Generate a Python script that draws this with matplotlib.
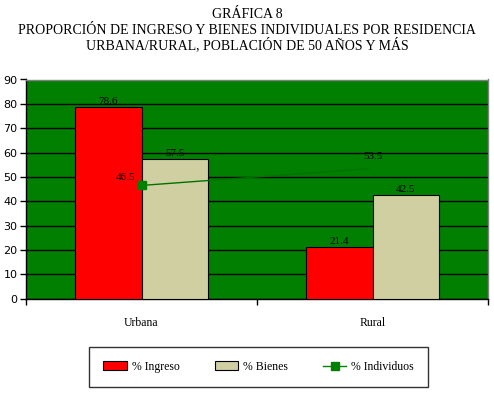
import numpy as np
import matplotlib
matplotlib.use('Agg')
import matplotlib.pyplot as plt
from matplotlib.lines import Line2D
from matplotlib.patches import Patch

# data
categories = ['Urbana', 'Rural']
ingreso = [78.6, 21.4]
bienes = [57.5, 42.5]
individuos = [46.5, 53.5]
yticks = list(range(0, 100, 10))

bg_green = '#007F00'
red = '#FF0000'
beige = '#D0CFA2'
line_green = '#007200'

fig = plt.figure(figsize=(4.94, 3.94), dpi=100)
ax = fig.add_axes([26 / 494, (394 - 298.7) / 394, 462 / 494, 219.2 / 394])
ax.set_facecolor(bg_green)

x = np.arange(len(categories))
w = 0.286
ax.bar(x - w / 2, ingreso, w, color=red, edgecolor='black', linewidth=0.8, zorder=3)
ax.bar(x + w / 2, bienes, w, color=beige, edgecolor='black', linewidth=0.8, zorder=3)
ax.plot(x, individuos, color=line_green, linewidth=1, marker='s', markersize=6,
        markerfacecolor='#008000', markeredgecolor='#008000', zorder=4)

# value labels
lab = dict(family='Liberation Serif', fontsize=8, color='black')
for i in range(len(categories)):
    ax.annotate(f'{ingreso[i]}', (x[i] - w / 2, ingreso[i]), xytext=(0, 1),
                textcoords='offset pixels', ha='center', va='bottom', **lab)
    ax.annotate(f'{bienes[i]}', (x[i] + w / 2, bienes[i]), xytext=(0, 1),
                textcoords='offset pixels', ha='center', va='bottom', **lab)
ax.annotate(f'{individuos[0]}', (x[0], individuos[0]), xytext=(-6, 8),
            textcoords='offset pixels', ha='right', va='center', **lab)
ax.annotate(f'{individuos[1]}', (x[1], individuos[1]), xytext=(0, 12),
            textcoords='offset pixels', ha='center', va='center', **lab)

ax.set_ylim(0, 90)
ax.set_xlim(-0.5, 1.5)
ax.set_yticks(yticks)
ax.yaxis.grid(True, color='black', linewidth=1, zorder=1)
ax.set_axisbelow(True)
ax.tick_params(axis='y', direction='out', length=4, width=1, labelsize=8, pad=2)
for t in ax.get_yticklabels():
    t.set_family('DejaVu Sans')

ax.set_xticks(x)
ax.set_xticklabels(categories, family='Liberation Serif', fontsize=8.5)
ax.set_xticks([-0.5, 0.5, 1.5], minor=True)
ax.tick_params(axis='x', which='major', length=0, pad=13)
ax.tick_params(axis='x', which='minor', direction='out', length=4, width=1)

for s in ['left', 'bottom']:
    ax.spines[s].set_color('black')
    ax.spines[s].set_linewidth(1)
for s in ['top', 'right']:
    ax.spines[s].set_color('#808080')
    ax.spines[s].set_linewidth(1)

fig.text(0.5, 1 - 14 / 394, 'GRÁFICA 8', ha='center', va='center',
         family='Liberation Serif', fontsize=10)
fig.text(0.5, 1 - 30 / 394, 'PROPORCIÓN DE INGRESO Y BIENES INDIVIDUALES POR RESIDENCIA',
         ha='center', va='center', family='Liberation Serif', fontsize=10)
fig.text(0.5, 1 - 45 / 394, 'URBANA/RURAL, POBLACIÓN DE 50 AÑOS Y MÁS',
         ha='center', va='center', family='Liberation Serif', fontsize=10)

handles = [Patch(facecolor=red, edgecolor='black', linewidth=0.8),
           Patch(facecolor=beige, edgecolor='black', linewidth=0.8),
           Line2D([0], [0], color='#008000', linewidth=1, marker='s', markersize=6)]
leg = fig.legend(handles, ['% Ingreso', '% Bienes', '% Individuos'], ncol=3,
                 loc='center', bbox_to_anchor=(89 / 494, 5 / 394, 339 / 494, 44 / 394),
                 mode='expand', fancybox=False, frameon=True, edgecolor='black',
                 prop={'family': 'Liberation Serif', 'size': 8.5},
                 handlelength=2.0, handleheight=0.8, handletextpad=0.4,
                 borderaxespad=0, borderpad=1.2)
leg.get_frame().set_linewidth(1)

fig.savefig('out.png', dpi=100)
